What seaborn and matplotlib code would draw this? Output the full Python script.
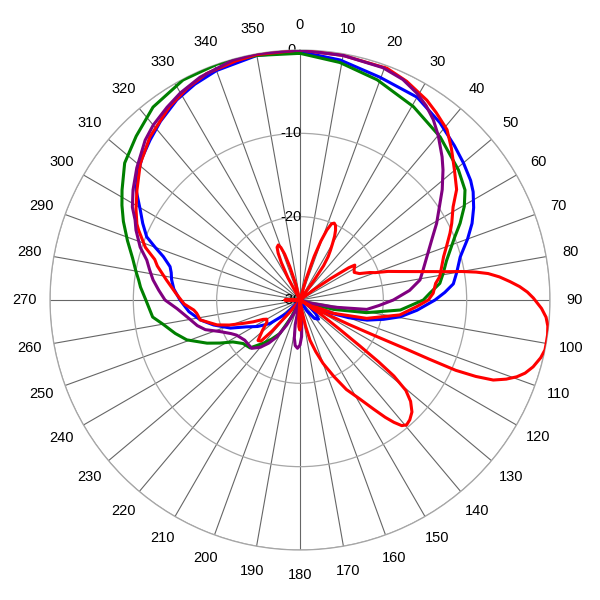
import numpy as np
import pandas as pd
import matplotlib
matplotlib.use('Agg')
import matplotlib.pyplot as plt
import matplotlib.transforms as mtransforms
import seaborn as sns

sns.set_style('white')
plt.rcParams['font.family'] = ['Liberation Sans', 'DejaVu Sans']

# ================= 数据 (角度 deg, 增益 dB) =================
blue_ang = [0, 9.5, 19.7, 30, 38.3, 45, 50, 55, 58, 62, 66, 70, 75, 80, 84, 87, 90, 95, 99.5, 103,
            106.7, 110, 113, 117, 121, 126, 131, 136, 142, 148, 153, 220, 225, 232, 238, 243.4, 248,
            253.9, 258.7, 264, 270, 275, 279, 282, 284.4, 287.6, 290, 292.4, 296, 299.4, 303.9, 308,
            312, 316.8, 322, 328.4, 334, 340, 350, 360]
blue_db = [-0.2, -0.8, -1.6, -1.9, -2.9, -3.8, -4.4, -5.0, -5.5, -6.4, -7.4, -8.6, -10.1, -10.9, -11.5,
           -12.6, -13.8, -15.9, -17.8, -19.7, -21.6, -23.8, -26, -27.8, -29, -28.5, -27.5, -26.8, -27.2,
           -28.5, -30, -30, -27.7, -25.4, -24, -22.8, -21, -19.2, -17.8, -16.6, -15.6, -14.8, -14.4,
           -14.2, -13.9, -12.8, -11.5, -10.1, -9, -8, -6.3, -5.3, -4.5, -3.7, -2.8, -1.8, -1.2, -0.7,
           -0.2, -0.2]

green_ang = [0, 9.5, 19.3, 30.4, 40.7, 50.6, 56.3, 60.3, 64.4, 68, 71.6, 75, 79.3, 83.2, 87, 90, 95.7,
             100.8, 105.6, 110, 113, 203, 206.4, 211, 216, 220.3, 226.2, 232.6, 238, 241.7, 245.1,
             250.6, 255, 260, 263.4, 270, 274.6, 277, 280, 284, 289, 294, 298, 301.7, 308, 315, 322.7,
             332, 340.7, 350, 360]
green_db = [-0.4, -1.1, -2.0, -3.1, -4.2, -5.4, -6.2, -7.3, -8.7, -10.0, -11.0, -11.8, -12.5, -13.1,
            -14.4, -15.2, -17.9, -21.9, -25.8, -29, -30, -30, -27.8, -25.3, -24.2, -23.2, -21.7, -21.4,
            -20.5, -19.1, -17.7, -15.6, -14.5, -13.3, -12.2, -11.5, -10.8, -10.5, -10, -9.3, -8.1,
            -6.8, -5.8, -4.9, -3.3, -2.2, -0.9, -0.1, 0, -0.2, -0.4]

purple_ang = [0, 10, 19.6, 25, 29.5, 33, 36.5, 40, 44.8, 47.7, 52.2, 56, 60.7, 65, 71.1, 76.3, 80.5,
              85, 90, 94, 98, 102, 106, 110, 172, 175, 177.5, 180, 183, 186, 188.5, 191, 194, 201,
              204, 208, 212, 216, 220, 225, 234, 241, 244, 248.4, 252.6, 256, 261, 266, 270, 274,
              277.8, 281.3, 284.6, 288.3, 293.1, 295.9, 299, 303.4, 309, 315.9, 320, 325.4, 330,
              335.8, 344.4, 350, 360]
purple_db = [0, -0.2, -0.4, -0.8, -1.5, -2.2, -3.1, -4.2, -5.8, -6.8, -8.4, -9.8, -11.2, -12.5, -13.9,
             -14.8, -15.4, -16.8, -18.8, -20.5, -21.9, -25.9, -28.5, -30, -30, -27.5, -25.6, -24.6,
             -24.2, -24.5, -25.4, -27, -30, -30, -28.3, -26.6, -24.8, -23.6, -22.6, -21.8, -21.8,
             -21.3, -20.8, -19.7, -18.1, -17.3, -16.4, -15.2, -13.8, -13, -12.2, -11.6, -11, -9.8,
             -8.6, -8, -7, -6, -4.8, -3.3, -2.6, -1.9, -1.3, -0.7, -0.1, 0, 0]

red1_ang = [0, 10, 20.6, 26, 32.4, 36, 40.8, 45, 50, 54.8, 58.7, 63.2, 66, 70, 73.2, 76.5, 80.5, 83,
            87.1, 90, 93.3, 98.5, 105.4, 111.8, 115, 118, 218, 220, 222, 223.5, 226, 231, 236, 240,
            242.3, 245, 247.7, 250.5, 253.3, 258.7, 262.7, 264.6, 268, 273, 278.5, 283.4, 285.6,
            288.8, 293.4, 295, 299, 304, 310.5, 317.4, 326, 332, 337.6, 345, 350, 360]
red1_db = [0, -0.2, -0.3, -0.8, -1.6, -2.2, -3.0, -4.3, -5.8, -7.0, -8.5, -9.6, -10.3, -11.3, -12.0,
           -12.5, -13.0, -13.6, -14.0, -14.6, -16, -17.9, -21.7, -25.7, -28.3, -30, -30, -28, -25,
           -23.2, -23, -24.2, -25.2, -25.4, -25, -23.8, -22.6, -21, -19.6, -17.8, -17.5, -17.2, -16.1,
           -15.1, -13.8, -12.4, -11.9, -10.4, -8.9, -8.4, -7.5, -6.4, -4.8, -3.4, -2.0, -1.2, -0.6,
           -0.3, -0.1, 0]

red2_ang = [0, 14, 16, 18, 19.5, 21, 22.5, 24, 25.5, 27, 28.5, 30, 31.5, 33, 34.5, 35.5, 37,
            51, 53, 55, 56.5, 57.5, 60, 63, 66, 68.5, 70, 72, 74, 76, 78, 79, 80, 81, 82, 83.4, 85,
            86.5, 88, 89.5, 92, 94, 96, 98, 100, 101.5, 103.5, 106, 108, 109.5, 111, 112.5, 113.5,
            114.3, 114.6, 114.8, 115.5, 116.6, 118, 119,
            122, 124.5, 126.5, 127.5, 128.2, 129, 130.5, 132.5, 135, 137.5, 139.5, 141, 142.5, 144,
            146, 149, 152.6, 156, 160, 163, 166, 168, 169.5, 171,
            175, 177, 178.5, 180.5, 182.5, 184, 186, 265, 270, 275,
            329, 331.5, 333.5, 335, 336.5, 338.5, 340, 341.5, 343, 345, 347, 360]
red2_db = [-30, -30, -27.5, -24.5, -22.5, -21, -20.1, -19.9, -20.1, -20.6, -21.3, -22.2, -23.0, -23.8,
           -25, -27, -30,
           -30, -28, -25.5, -23, -22.2, -22.5, -22.7, -22.2, -21, -20.4, -18.9, -17.6, -15.9, -13.6,
           -12.2, -10.3, -8.6, -7.2, -5.9, -4.7, -3.6, -2.7, -2.0, -1.0, -0.4, -0.1, 0, 0, 0, -0.3,
           -0.9, -1.6, -2.4, -3.5, -4.9, -7, -9.5, -13, -16, -20, -23.5, -26.5, -30,
           -30, -27, -24, -21, -18, -15.5, -13.3, -12, -11, -10.5, -10.3, -10.6, -11.5, -12.6,
           -14.2, -16.2, -17.9, -19.9, -21.9, -23.5, -25, -26.8, -28.5, -30,
           -30, -27.8, -26.8, -26.4, -26.8, -27.8, -30, -30, -28.2, -30,
           -30, -27, -25, -23.8, -23.1, -22.9, -23.3, -24.2, -25.8, -28, -30, -30]

theta_labels = [str(a) for a in range(0, 360, 10)]
r_ticks = [-30, -20, -10, 0]

# ================= 画布 =================
fig = plt.figure(figsize=(6, 6), dpi=100)
fig.patch.set_facecolor('white')
ax = fig.add_axes([50 / 600, 50 / 600, 500 / 600, 500 / 600], projection='polar')
ax.set_theta_zero_location('N')
ax.set_theta_direction(-1)

curves = [('blue', blue_ang, blue_db, '#0000ff'),
          ('green', green_ang, green_db, '#008000'),
          ('red1', red1_ang, red1_db, '#ff0000'),
          ('purple', purple_ang, purple_db, '#800080'),
          ('red2', red2_ang, red2_db, '#ff0000')]
for name, ang, db, col in curves:
    d = pd.DataFrame({'theta': np.deg2rad(ang), 'r': np.clip(db, -30, 0)})
    sns.lineplot(data=d, x='theta', y='r', ax=ax, sort=False, estimator=None,
                 color=col, lw=2.2, zorder=3)

ax.set_ylim(-30, 0)
ax.set_thetagrids(range(0, 360, 10), theta_labels, fontsize=10.5, color='black')
ax.set_rgrids(r_ticks, labels=[''] * len(r_ticks))
ax.set_xlabel('')
ax.set_ylabel('')
ax.tick_params(axis='x', length=0, pad=11)
ax.xaxis.grid(True, color='#666666', lw=0.8)
ax.yaxis.grid(True, color='#a6a6a6', lw=0.9)
ax.spines['polar'].set_color('#a6a6a6')
ax.spines['polar'].set_linewidth(0.9)

# 径向刻度标签放在 0 度方向左侧
off = mtransforms.ScaledTranslation(-9 / 100, 0, fig.dpi_scale_trans)
for v in r_ticks:
    ax.text(0, v, str(v), transform=ax.transData + off, ha='center', va='center',
            fontsize=10.5, color='black', zorder=2)

plt.savefig('out.png', dpi=100)
